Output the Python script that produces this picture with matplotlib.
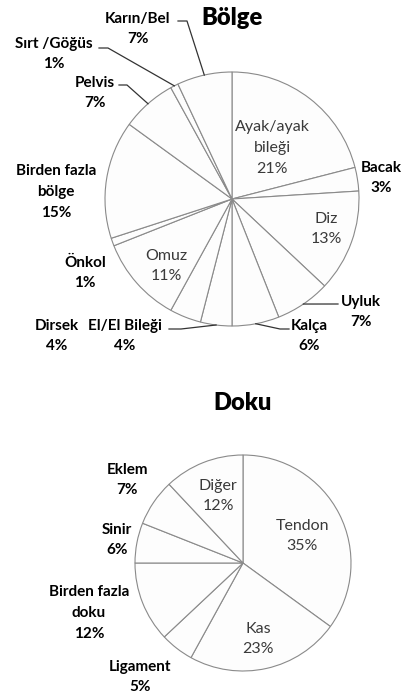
import numpy as np
import matplotlib.pyplot as plt

W, H = 403, 698

# Bölge (region) pie, clockwise from 12 o'clock
region_names = ['Ayak/ayak\nbileği', 'Bacak', 'Diz', 'Uyluk', 'Kalça', 'El/El Bileği',
                'Dirsek', 'Omuz', 'Önkol', 'Birden fazla\nbölge', 'Pelvis',
                'Sırt /Göğüs', 'Karın/Bel']
region_pct = [21, 3, 13, 7, 6, 4, 4, 11, 1, 15, 7, 1, 7]

# Doku (tissue) pie, clockwise from 12 o'clock
tissue_names = ['Tendon', 'Kas', 'Ligament', 'Birden fazla\ndoku', 'Sinir', 'Eklem', 'Diğer']
tissue_pct = [35, 23, 5, 12, 6, 7, 12]

# label layout in image pixels: (x, y of label centre, inside?)
region_pos = [(272, 148, True), (381, 178, False), (326, 229, True), (361, 312, False),
              (309, 336, False), (125, 336, False), (57, 336, False), (166, 266, True),
              (85, 273, False), (56, 192, False), (95, 93, False), (54, 54, False),
              (138, 29, False)]
tissue_pos = [(302, 536, True), (258, 639, True), (140, 677, False), (89, 613, False),
              (117, 540, False), (127, 480, False), (218, 496, True)]

# leader lines: label index -> list of text-side points (image px); last point is pie edge
region_leaders = {12: [(178, 21), (187, 21)],
                  11: [(99, 48), (108, 48)],
                  10: [(119, 85), (127, 85)],
                  5: [(169, 329), (181, 329)],
                  4: [(289, 329), (280, 329)],
                  3: [(338, 304)]}

plt.rcParams['font.family'] = ['Lato', 'DejaVu Sans']

fig = plt.figure(figsize=(W / 100, H / 100), dpi=100)
ax = fig.add_axes([0, 0, 1, 1])

wedge_style = dict(facecolor='#fdfdfd', edgecolor='#8a8a8a', linewidth=0.8)


def draw_pie(values, cx, cy, r):
    wedges, _ = ax.pie(values, startangle=90, counterclock=False, center=(cx, H - cy),
                       radius=r, wedgeprops=wedge_style, frame=True)
    return wedges


def edge_point(wedge, cx, cy, r):
    mid = np.deg2rad((wedge.theta1 + wedge.theta2) / 2)
    return cx + r * np.cos(mid), cy - r * np.sin(mid)


def put_labels(names, pct, pos):
    for name, p, (x, y, inside) in zip(names, pct, pos):
        txt = '%s\n%d%%' % (name, p)
        if inside:
            ax.text(x, H - y, txt, ha='center', va='center', fontsize=11.5,
                    color='#3a3a3a', linespacing=1.6)
        else:
            ax.text(x, H - y, txt, ha='center', va='center', fontsize=11,
                    fontweight='bold', color='black', linespacing=1.6)


# Bölge
cx1, cy1, r1 = 232, 199, 127
w1 = draw_pie(region_pct, cx1, cy1, r1)
put_labels(region_names, region_pct, region_pos)
for i, pts in region_leaders.items():
    ex, ey = edge_point(w1[i], cx1, cy1, r1)
    xs = [p[0] for p in pts] + [ex]
    ys = [H - p[1] for p in pts] + [H - ey]
    ax.plot(xs, ys, color='#333333', lw=0.9)
ax.text(232, H - 18, 'Bölge', ha='center', va='center', fontsize=17, fontweight='heavy')

# Doku
cx2, cy2, r2 = 243, 563, 108
draw_pie(tissue_pct, cx2, cy2, r2)
put_labels(tissue_names, tissue_pct, tissue_pos)
ax.text(243, H - 403, 'Doku', ha='center', va='center', fontsize=17, fontweight='heavy')

ax.set_xlim(0, W)
ax.set_ylim(0, H)
ax.set_aspect('auto')
ax.axis('off')

fig.savefig('out.png', dpi=100)
